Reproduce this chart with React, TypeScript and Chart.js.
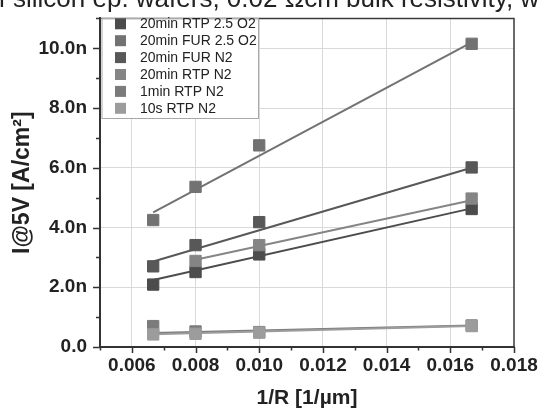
import { useEffect, useRef } from "react";
import { Chart, registerables } from "chart.js";

Chart.register(...registerables);

// Inverse radius of the test structures [1/µm]
const invRadius = [0.00667, 0.008, 0.01, 0.01667];

const seriesNames = [
  "20min RTP 2.5 O2",
  "20min FUR 2.5 O2",
  "20min FUR N2",
  "20min RTP N2",
  "1min RTP N2",
  "10s RTP N2",
];

// Current density at 5 V, in nA/cm²
const rtpO2_20min = [2.09, 2.51, 3.1, 4.62];
const furO2_20min = [4.25, 5.36, 6.75, 10.15];
const furN2_20min = [2.7, 3.41, 4.18, 6.01];
const rtpN2_20min = [null, 2.88, 3.41, 4.97];
const rtpN2_1min = [0.7, 0.52, 0.5, 0.72];
const rtpN2_10s = [0.42, 0.44, 0.48, 0.7];

// Linear fit lines: value at the first and at the last measured 1/R
const fitStart = [2.24, 4.51, 2.86, 2.92, 0.47, 0.43];
const fitEnd = [4.64, 10.2, 6.0, 4.91, 0.72, 0.7];

const seriesColors = ["#4c4c4c", "#727272", "#585858", "#858585", "#7b7b7b", "#9c9c9c"];

const xTickValues = [0.006, 0.008, 0.01, 0.012, 0.014, 0.016, 0.018];
const yTickValues = [0, 2, 4, 6, 8, 10];
const xMinorTicks = [0.005, 0.007, 0.009, 0.011, 0.013, 0.015, 0.017];
const yMinorTicks = [1, 3, 5, 7, 9, 11];

const titleText = "of silicon ep. wafers, 0.02 Ωcm bulk resistivity, with";

const FONT = 'Arial, "Liberation Sans", Helvetica, sans-serif';

const allSeries = [rtpO2_20min, furO2_20min, furN2_20min, rtpN2_20min, rtpN2_1min, rtpN2_10s];

function buildDatasets() {
  const ds: any[] = [];
  allSeries.forEach((vals, i) => {
    const pts = invRadius
      .map((x, j) => (vals[j] == null ? null : { x, y: vals[j] as number }))
      .filter((p) => p !== null) as { x: number; y: number }[];
    const color = seriesColors[i];
    ds.push({
      label: seriesNames[i] + " fit",
      data: [
        { x: pts[0].x, y: fitStart[i] },
        { x: pts[pts.length - 1].x, y: fitEnd[i] },
      ],
      showLine: true,
      borderColor: color,
      backgroundColor: color,
      borderWidth: 2,
      pointRadius: 0,
      order: 100 - 2 * i + 1,
    });
    ds.push({
      label: seriesNames[i],
      data: pts,
      showLine: false,
      pointStyle: "rect",
      pointRadius: 8,
      borderWidth: 1,
      borderColor: color,
      backgroundColor: color,
      order: 100 - 2 * i,
    });
  });
  return ds;
}

const decorations = {
  id: "decorations",
  afterDraw(chart: any) {
    const { ctx, chartArea } = chart;
    const { left, right, top, bottom } = chartArea;
    const xs = chart.scales.x;
    const ys = chart.scales.y;
    ctx.save();

    // top and right frame
    ctx.strokeStyle = "#3a3a3a";
    ctx.lineWidth = 1.5;
    ctx.beginPath();
    ctx.moveTo(left, top);
    ctx.lineTo(right, top);
    ctx.lineTo(right, bottom);
    ctx.stroke();

    // outward tick marks
    ctx.strokeStyle = "#333";
    ctx.lineWidth = 1.5;
    ctx.beginPath();
    xTickValues.forEach((v) => {
      const px = Math.round(xs.getPixelForValue(v)) + 0.5;
      ctx.moveTo(px, bottom);
      ctx.lineTo(px, bottom + 6);
    });
    xMinorTicks.forEach((v) => {
      const px = Math.round(xs.getPixelForValue(v)) + 0.5;
      ctx.moveTo(px, bottom);
      ctx.lineTo(px, bottom + 3.5);
    });
    yTickValues.forEach((v) => {
      const py = Math.round(ys.getPixelForValue(v)) + 0.5;
      ctx.moveTo(left, py);
      ctx.lineTo(left - 7, py);
    });
    yMinorTicks.forEach((v) => {
      const py = Math.round(ys.getPixelForValue(v)) + 0.5;
      ctx.moveTo(left, py);
      ctx.lineTo(left - 4, py);
    });
    ctx.stroke();

    // legend box
    const lx = left + 1.5;
    const lw = 259 - lx;
    const ly = top;
    const lh = 119 - top;
    ctx.fillStyle = "#ffffff";
    ctx.fillRect(lx, ly, lw, lh);
    ctx.strokeStyle = "#a8a8a8";
    ctx.lineWidth = 1;
    ctx.strokeRect(lx + 0.5, ly + 0.5, lw - 1, lh - 1);
    ctx.font = `14px ${FONT}`;
    ctx.textBaseline = "middle";
    ctx.textAlign = "left";
    seriesNames.forEach((name, i) => {
      const cy = 23.8 + i * 16.9;
      ctx.fillStyle = seriesColors[i];
      ctx.fillRect(115, cy - 5.5, 11, 11);
      ctx.fillStyle = "#222";
      ctx.fillText(name, 140, cy + 0.5);
    });

    // clipped figure title at the very top
    ctx.font = `26px ${FONT}`;
    ctx.fillStyle = "#222";
    ctx.textBaseline = "alphabetic";
    const lead = ctx.measureText("of ").width;
    ctx.fillText(titleText, 13 - lead, 7);

    ctx.restore();
  },
};

export default function App() {
  const ref = useRef<HTMLCanvasElement>(null);

  useEffect(() => {
    document.body.style.margin = "0";
    const canvas = ref.current!;
    const chart = new Chart(canvas, {
      type: "scatter",
      data: { datasets: buildDatasets() },
      options: {
        responsive: false,
        animation: false,
        devicePixelRatio: 1,
        layout: { padding: { top: 13, right: 26, left: 0, bottom: 0 } },
        plugins: {
          legend: { display: false },
          tooltip: { enabled: false },
          title: { display: false },
        },
        scales: {
          x: {
            type: "linear",
            min: 0.005,
            max: 0.018,
            afterBuildTicks: (scale: any) => {
              scale.ticks = xTickValues.map((v) => ({ value: v }));
            },
            afterFit: (scale: any) => {
              scale.height = 64;
            },
            ticks: {
              callback: (v: any) => Number(v).toFixed(3),
              font: { family: FONT, size: 19, weight: "bold" },
              color: "#222",
              padding: 1,
              maxRotation: 0,
            },
            grid: {
              color: (c: any) => (c.tick && c.tick.value >= 0.0179 ? "rgba(0,0,0,0)" : "#d9d9d9"),
              lineWidth: 1,
              drawTicks: true,
              tickLength: 6,
              tickColor: "rgba(0,0,0,0)",
            },
            border: { color: "#333", width: 2 },
            title: {
              display: true,
              text: "1/R [1/µm]",
              font: { family: FONT, size: 21, weight: "bold" },
              color: "#222",
              padding: { top: 0, bottom: 0 },
            },
          },
          y: {
            type: "linear",
            min: 0,
            max: 11,
            afterBuildTicks: (scale: any) => {
              scale.ticks = yTickValues.map((v) => ({ value: v }));
            },
            afterFit: (scale: any) => {
              scale.width = 100;
            },
            ticks: {
              callback: (v: any) => (Number(v) === 0 ? "0.0" : Number(v).toFixed(1) + "n"),
              font: { family: FONT, size: 19, weight: "bold" },
              color: "#222",
              padding: 7,
            },
            grid: {
              color: (c: any) => (c.tick && c.tick.value === 0 ? "rgba(0,0,0,0)" : "#d9d9d9"),
              lineWidth: 1,
              drawTicks: true,
              tickLength: 6,
              tickColor: "rgba(0,0,0,0)",
            },
            border: { color: "#333", width: 2 },
            title: {
              display: true,
              text: "I@5V [A/cm²]",
              font: { family: FONT, size: 23, weight: "bold" },
              color: "#222",
              padding: { top: 9, bottom: 0 },
            },
          },
        },
      },
      plugins: [decorations],
    } as any);
    return () => chart.destroy();
  }, []);

  return (
    <div style={{ width: 540, height: 411 }}>
      <canvas ref={ref} width={540} height={411} style={{ display: "block" }} />
    </div>
  );
}
